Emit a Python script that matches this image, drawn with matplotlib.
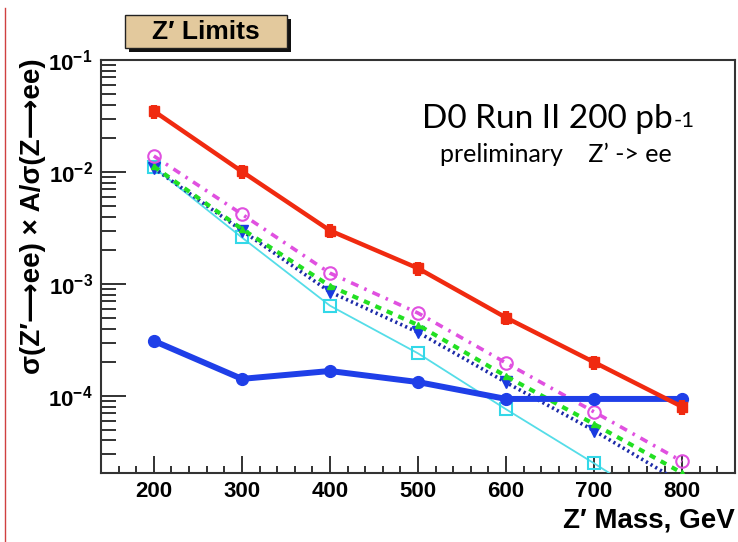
import matplotlib.pyplot as plt
from matplotlib.patches import Rectangle
from matplotlib.lines import Line2D
import matplotlib.ticker as mticker

plt.rcParams['mathtext.fontset'] = 'custom'
plt.rcParams['mathtext.rm'] = 'Liberation Sans:bold'
plt.rcParams['mathtext.bf'] = 'Liberation Sans:bold'

# Z' mass points (GeV)
mass = [200, 300, 400, 500, 600, 700, 800]

# limit curves: sigma(Z'->ee) x A / sigma(Z->ee)
limit_obs = [0.035, 0.0101, 0.0030, 0.00138, 5.0e-4, 2.0e-4, 8.0e-5]
limit_err = [0.0050, 0.0015, 0.00043, 0.00020, 7.0e-5, 2.9e-5, 1.2e-5]
acc_ratio = [3.1e-4, 1.42e-4, 1.67e-4, 1.33e-4, 9.4e-5, 9.4e-5, 9.4e-5]
model_mag = [0.0139, 0.0042, 1.25e-3, 5.5e-4, 1.97e-4, 7.2e-5, 2.6e-5]
model_grn = [0.0112, 0.0031, 9.6e-4, 4.3e-4, 1.5e-4, 5.6e-5, 2.05e-5]
model_nvy = [0.0108, 0.0030, 8.5e-4, 3.7e-4, 1.32e-4, 4.9e-5, 1.66e-5]
model_cyn = [0.0110, 0.0026, 6.4e-4, 2.4e-4, 7.6e-5, 2.5e-5, 7.9e-6]

xticks = [200, 300, 400, 500, 600, 700, 800]
yticks = [1e-4, 1e-3, 1e-2, 1e-1]
ytick_labels = [r'$10^{-4}$', r'$10^{-3}$', r'$10^{-2}$', r'$10^{-1}$']

fig = plt.figure(figsize=(7.38, 5.42), dpi=100)
fig.patch.set_facecolor('white')
ax = fig.add_axes([101/738, 1 - 473/542, 634/738, 413/542])

ax.plot(mass, model_cyn, color='#55dde8', lw=1.3, marker='s', ms=8,
        mfc='none', mec='#33d8e8', mew=1.5, zorder=3)
ax.plot(mass, model_nvy, color='#1c2aa8', lw=2.6, ls=(0, (0.6, 0.9)),
        marker='v', ms=8, mfc='#1a3ae0', mec='#1a3ae0', zorder=4)
ax.plot(mass, model_grn, color='#22e022', lw=3.0, ls=(0, (1.5, 1.5)),
        marker='^', ms=5, mfc='#22e022', mec='#22e022', zorder=4)
ax.plot(mass, model_mag, color='#e050e0', lw=2.6, ls=(0, (2.2, 1.8, 0.7, 1.8)),
        marker='o', ms=9, mfc='none', mec='#e050e0', mew=1.5, zorder=5)
ax.plot(mass, acc_ratio, color='#1f3fe8', lw=4.3, marker='o', ms=8.5,
        mfc='#1f3fe8', mec='#1f3fe8', zorder=6)
ax.errorbar(mass, limit_obs, yerr=limit_err, color='#f02a10', lw=3.2,
            marker='s', ms=7, mfc='#f02a10', mec='#f02a10',
            elinewidth=4.5, capsize=0, zorder=7)

ax.set_yscale('log')
ax.set_xlim(140, 860)
ax.set_ylim(2.05e-5, 0.1)

ax.xaxis.set_minor_locator(mticker.MultipleLocator(20))
ax.set_xticks(xticks)
ax.set_xticklabels([str(v) for v in xticks])
ax.set_yticks(yticks)
ax.set_yticklabels(ytick_labels)
ax.yaxis.set_minor_locator(mticker.LogLocator(base=10, subs=range(2, 10)))
ax.yaxis.set_minor_formatter(mticker.NullFormatter())

ax.tick_params(axis='both', which='both', direction='in', top=False, right=False,
               width=1.3, color='#222222')
ax.tick_params(axis='x', which='major', length=12, pad=6)
ax.tick_params(axis='x', which='minor', length=5)
ax.tick_params(axis='y', which='major', length=18, pad=6)
ax.tick_params(axis='y', which='minor', length=11)
for lab in ax.get_xticklabels():
    lab.set_family('Liberation Sans')
    lab.set_fontweight('bold')
    lab.set_fontsize(16)
for lab in ax.get_yticklabels():
    lab.set_fontsize(16)
for sp in ax.spines.values():
    sp.set_linewidth(1.5)
    sp.set_color('#333333')

# axis titles, ROOT style
fig.text(735/738, 1 - 521/542, 'Z\u2032 Mass, GeV', ha='right', va='center',
         fontsize=20, fontweight='bold', family=['Liberation Sans', 'DejaVu Sans'])
fig.text(33/738, 1 - 58/542,
         '\u03c3(Z\u2032\u27f6ee) \u00d7 A/\u03c3(Z\u27f6ee)', rotation=90,
         ha='center', va='top', fontsize=20, fontweight='bold',
         family=['Liberation Sans', 'DejaVu Sans'])

# title box with drop shadow
fig.patches.append(Rectangle((129/738, 1 - 52/542), 162/738, 33/542,
                             transform=fig.transFigure, facecolor='#111111',
                             edgecolor='none', zorder=1))
fig.patches.append(Rectangle((125/738, 1 - 48/542), 162/738, 33/542,
                             transform=fig.transFigure, facecolor='#e3c99d',
                             edgecolor='#222222', lw=1.0, zorder=2))
fig.text(206/738, 1 - 32/542, 'Z\u2032 Limits', ha='center', va='center',
         fontsize=19, fontweight='bold', family=['Liberation Sans', 'DejaVu Sans'],
         zorder=3)

# experiment annotation
t1 = fig.text(422/738, 1 - 128/542, 'D0 Run II 200 pb', ha='left', va='baseline',
              fontsize=24, family='Lato')
fig.canvas.draw()
bb = t1.get_window_extent()
fig.text(bb.x1 / fig.bbox.width + 1/738, 1 - 127/542, '-1', ha='left',
         va='baseline', fontsize=16, family='Lato')
fig.text(440/738, 1 - 162/542, 'preliminary    Z\u2019 -> ee', ha='left',
         va='baseline', fontsize=18, family='Lato')

# slide border line on the left
fig.add_artist(Line2D([5/738, 5/738], [0.0, 0.985], transform=fig.transFigure,
                      color='#d04040', lw=1.0))

fig.savefig('out.png', dpi=100)
